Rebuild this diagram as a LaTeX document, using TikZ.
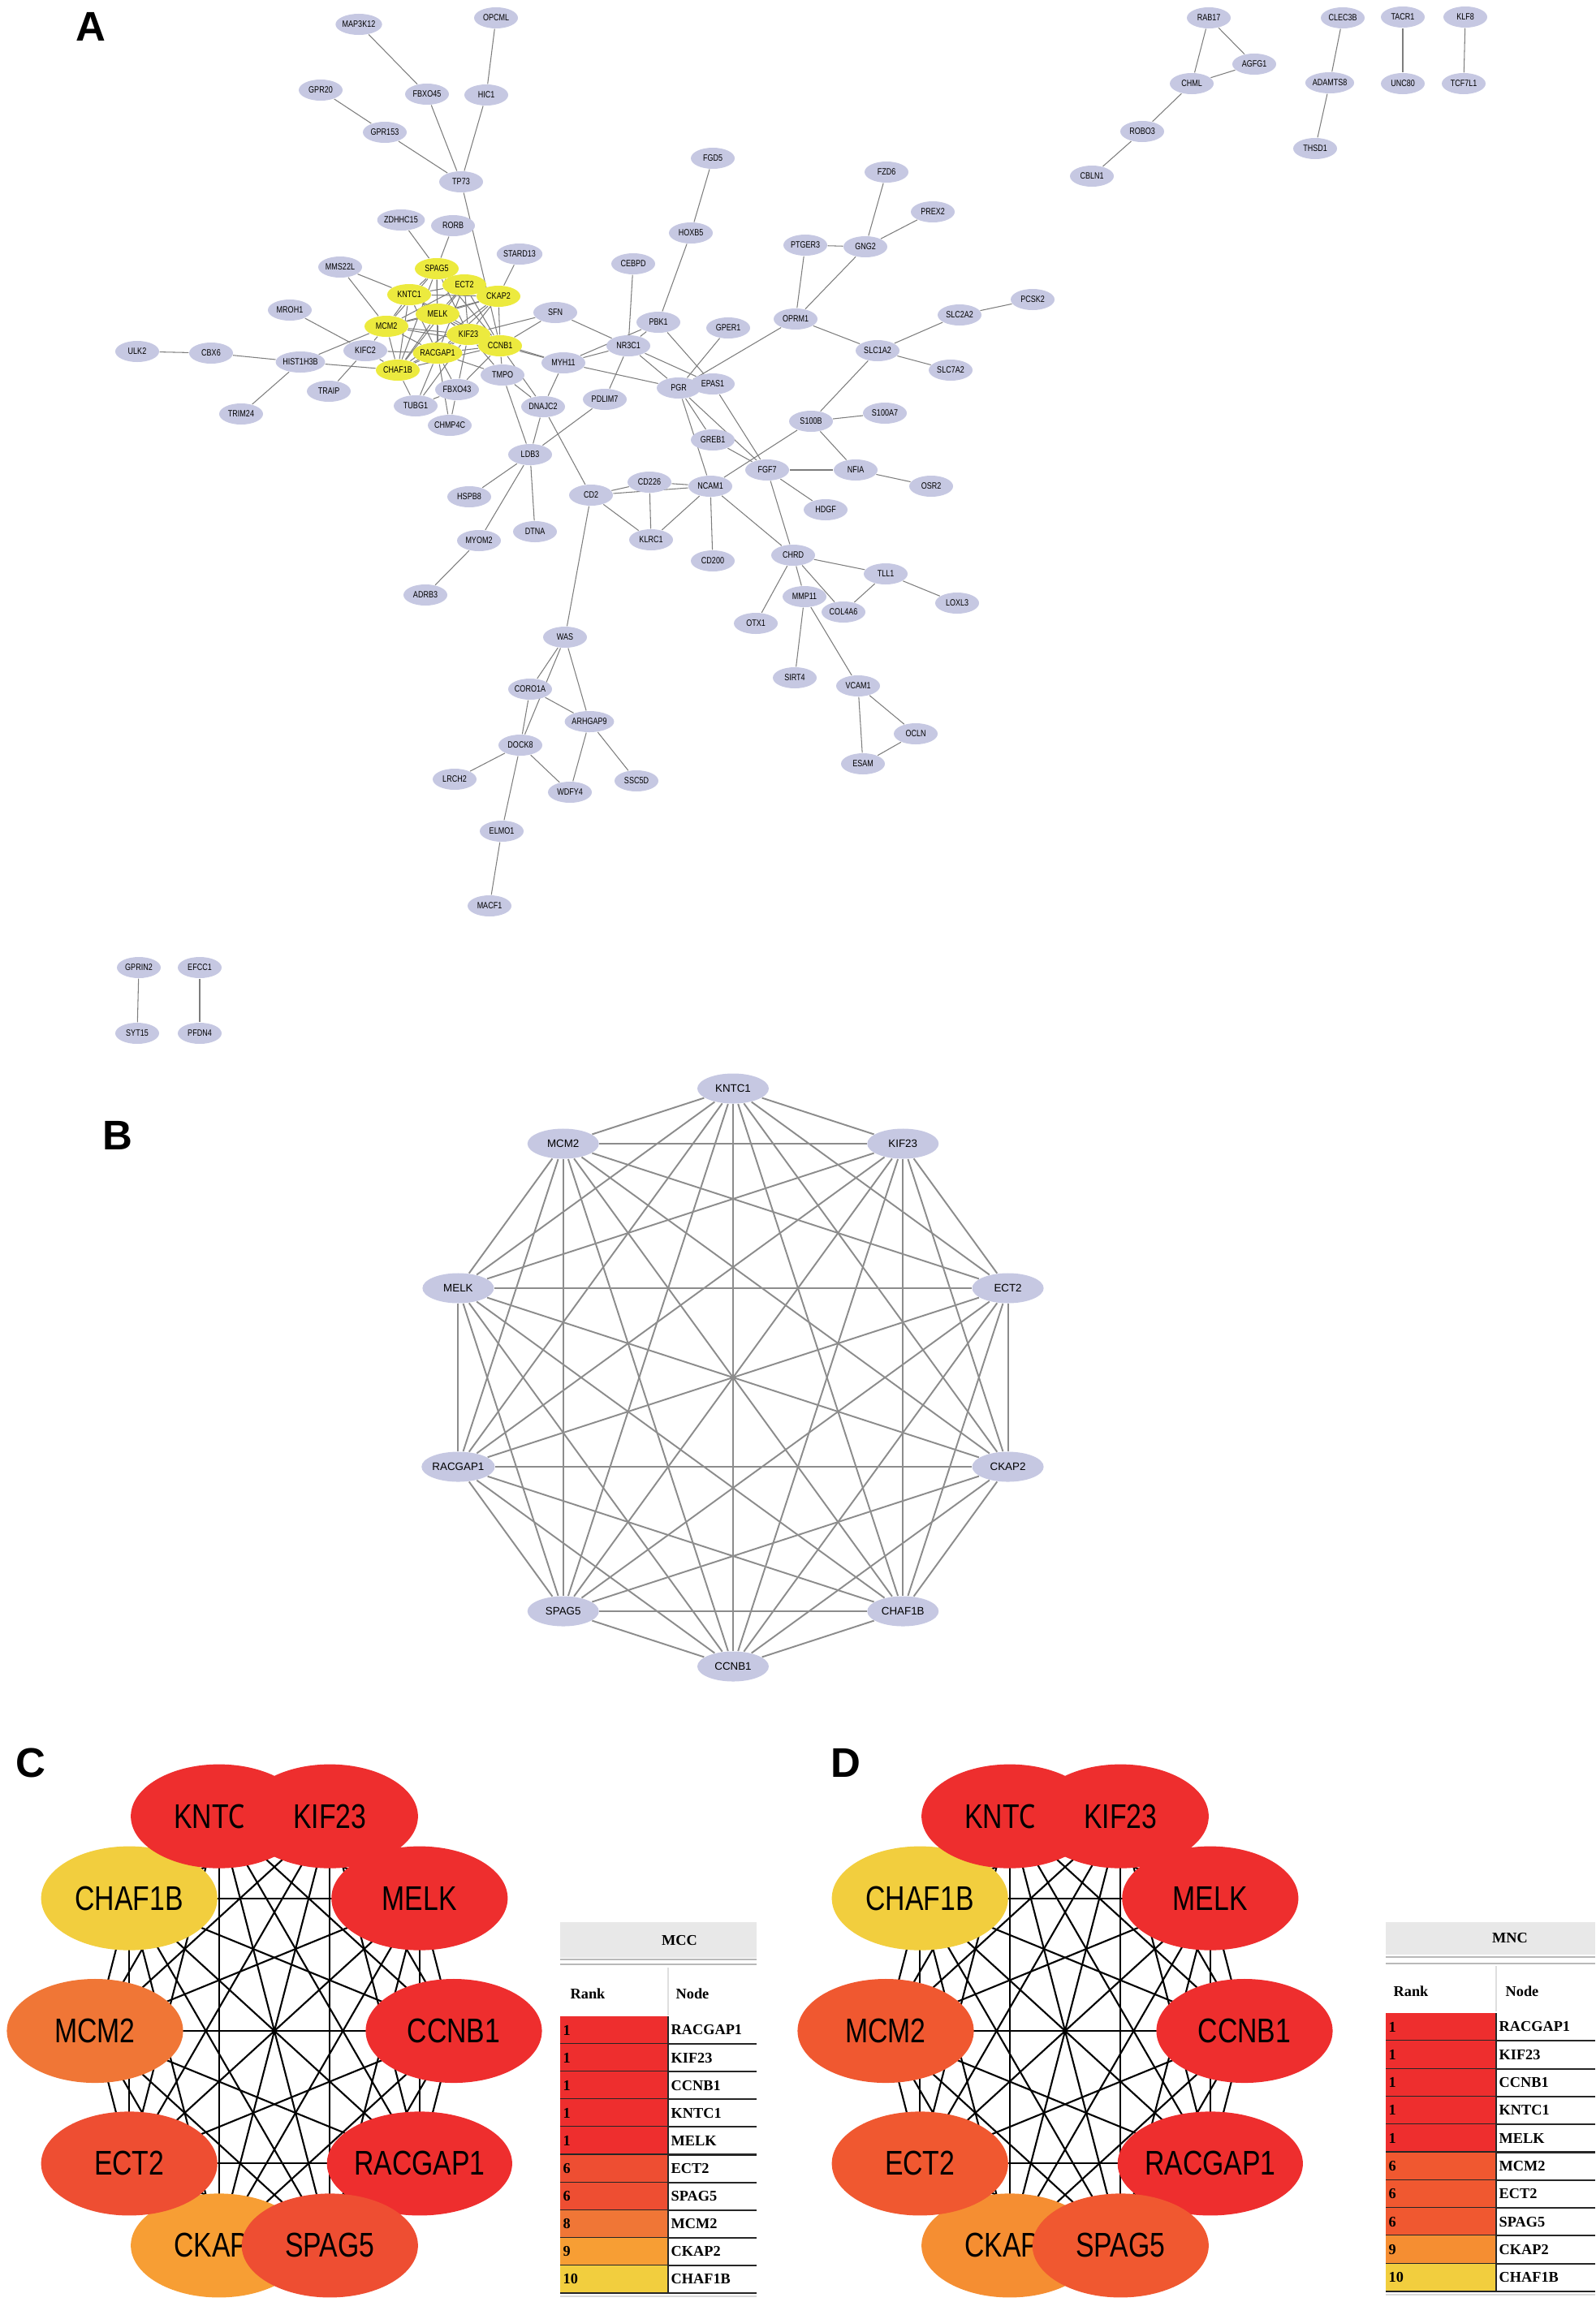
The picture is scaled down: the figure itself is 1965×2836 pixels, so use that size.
\documentclass[tikz,border=0pt]{standalone}
\usepackage{fontspec}
\setmainfont{Liberation Sans}
\newfontfamily\nsans[FakeStretch=0.8]{Liberation Sans}
\newfontfamily\tabfont{Liberation Serif}
\usetikzlibrary{shapes.geometric,backgrounds,calc}

\definecolor{genefill}{RGB}{198,200,226}
\definecolor{hubfill}{RGB}{236,234,62}
\definecolor{linkgray}{RGB}{125,125,125}
\definecolor{cliquegray}{RGB}{140,140,140}
\definecolor{rkone}{RGB}{238,46,46}
\definecolor{rksixC}{RGB}{238,78,50}
\definecolor{rkeightC}{RGB}{240,118,54}
\definecolor{rknineC}{RGB}{247,158,52}
\definecolor{rkten}{RGB}{242,206,62}
\definecolor{rksixD}{RGB}{240,88,48}
\definecolor{rknineD}{RGB}{245,142,50}
\definecolor{headgray}{RGB}{232,232,232}

\newcommand\hublist{KNTC1,KIF23,ECT2,CKAP2,CHAF1B,CCNB1,SPAG5,RACGAP1,MELK,MCM2}

\tikzset{
  gene/.style={ellipse, fill=genefill, inner sep=0pt, minimum width=0.54cm, minimum height=0.26cm, font=\nsans\fontsize{3.2}{3.2}\selectfont},
  hub/.style={gene, fill=hubfill},
  link/.style={draw=linkgray, line width=0.3pt},
  bgene/.style={ellipse, fill=genefill, inner sep=0pt, minimum width=0.88cm, minimum height=0.37cm, font=\fontsize{3.8}{3.8}\selectfont},
  blink/.style={draw=cliquegray, line width=0.55pt},
  cgene/.style={ellipse, inner sep=0pt, minimum width=2.17cm, minimum height=1.28cm, font=\nsans\fontsize{12}{12}\selectfont},
  clink/.style={draw=black, line width=0.6pt},
  panel/.style={font=\bfseries\fontsize{14.5}{14.5}\selectfont},
  tabtxt/.style={inner sep=0pt, font=\tabfont\bfseries\fontsize{5.2}{5.2}\selectfont},
  rowline/.style={draw=black!85, line width=0.6pt}
}

\begin{document}
\begin{tikzpicture}[x=0.01cm, y=-0.01cm]
\useasboundingbox (0,0) rectangle (1965,2836);

% A: whole network
\node[panel] (labA) at (112,33) {A};
\foreach \g/\x/\y in {MAP3K12/442/30, OPCML/611/22, GPR20/395/111, FBXO45/526/116, HIC1/599/117,
  GPR153/474/163, TP73/568/224, ZDHHC15/494/271, RORB/558/278, STARD13/640/313, MMS22L/419/329,
  MROH1/357/382, KIFC2/450/432, HIST1H3B/370/446, CBX6/260/435, ULK2/169/433, TMPO/619/462,
  TRAIP/405/482, FBXO43/563/480, TUBG1/512/500, CHMP4C/554/524, TRIM24/297/510, SFN/684/385,
  FGD5/878/195, FZD6/1092/212, PREX2/1149/261, HOXB5/851/287, PTGER3/992/302, GNG2/1066/304,
  CEBPD/780/325, PBK1/811/397, GPER1/897/404, OPRM1/980/393, PCSK2/1272/369, SLC2A2/1182/388,
  NR3C1/774/426, MYH11/694/447, SLC1A2/1081/432, SLC7A2/1171/456, PGR/836/478, EPAS1/878/473,
  DNAJC2/669/501, PDLIM7/745/492, S100A7/1090/509, S100B/999/519, GREB1/878/542, LDB3/653/560,
  FGF7/945/579, NFIA/1054/579, OSR2/1147/599, CD226/800/594, NCAM1/875/599, CD2/728/610,
  HSPB8/578/612, HDGF/1017/628, DTNA/659/655, MYOM2/590/666, KLRC1/802/665, CD200/878/691,
  CHRD/977/684, TLL1/1091/707, ADRB3/524/733, MMP11/991/735, LOXL3/1179/743, COL4A6/1039/754,
  OTX1/931/768, WAS/696/785, SIRT4/979/835, VCAM1/1057/845, CORO1A/653/849, ARHGAP9/726/889,
  DOCK8/641/918, OCLN/1128/904, ESAM/1063/941, LRCH2/560/960, WDFY4/702/976, SSC5D/784/962,
  ELMO1/618/1024, MACF1/603/1116,
  RAB17/1489/22, AGFG1/1545/79, CHML/1468/103, ROBO3/1407/162, CBLN1/1345/217,
  CLEC3B/1654/22, ADAMTS8/1638/102, THSD1/1620/183, TACR1/1728/21, UNC80/1728/103,
  KLF8/1805/21, TCF7L1/1803/103, GPRIN2/171/1192, EFCC1/246/1192, SYT15/169/1273, PFDN4/246/1273}
  \node[gene] (a\g) at (\x,\y) {\g};
\foreach \g/\x/\y in {SPAG5/538/331, ECT2/572/351, CKAP2/614/365, KNTC1/504/363, MELK/539/387,
  MCM2/476/402, KIF23/577/412, CCNB1/616/426, RACGAP1/539/435, CHAF1B/490/456}
  \node[hub] (a\g) at (\x,\y) {\g};

\begin{scope}[on background layer]
\foreach \u/\v in {MAP3K12/FBXO45, OPCML/HIC1, GPR20/GPR153, FBXO45/TP73, HIC1/TP73, GPR153/TP73,
  TP73/CCNB1, ZDHHC15/SPAG5, RORB/SPAG5, STARD13/CKAP2, MMS22L/KNTC1, MMS22L/MCM2, MROH1/KIFC2,
  ULK2/CBX6, CBX6/HIST1H3B, HIST1H3B/MCM2, HIST1H3B/CHAF1B, HIST1H3B/TRIM24, KIFC2/TRAIP,
  KIFC2/MCM2, KIFC2/CHAF1B, KIFC2/RACGAP1, CHAF1B/TUBG1, TUBG1/FBXO43, TUBG1/RACGAP1, TUBG1/KIF23,
  FBXO43/CHMP4C, RACGAP1/CHMP4C, FBXO43/CCNB1, FBXO43/KIF23, FBXO43/RACGAP1, TMPO/CCNB1,
  TMPO/KIF23, TMPO/RACGAP1, TMPO/LDB3, CCNB1/DNAJC2, TMPO/DNAJC2, SFN/KIF23, SFN/CCNB1, SFN/NR3C1,
  CCNB1/MYH11, KIF23/MYH11, MYH11/NR3C1, MYH11/PGR, MYH11/DNAJC2, CEBPD/NR3C1, FGD5/HOXB5,
  HOXB5/PBK1, PBK1/NR3C1, PBK1/MYH11, PBK1/EPAS1, NR3C1/PGR, NR3C1/EPAS1, NR3C1/PDLIM7, GPER1/PGR,
  OPRM1/PGR, OPRM1/PTGER3, OPRM1/GNG2, PTGER3/GNG2, FZD6/GNG2, PREX2/GNG2, OPRM1/SLC1A2,
  SLC1A2/SLC2A2, SLC2A2/PCSK2, SLC1A2/SLC7A2, SLC1A2/S100B, S100B/S100A7, S100B/NFIA, S100B/NCAM1,
  PGR/GREB1, PGR/NCAM1, PGR/FGF7, EPAS1/FGF7, GREB1/FGF7, DNAJC2/LDB3, PDLIM7/LDB3, DNAJC2/CD2,
  LDB3/HSPB8, LDB3/DTNA, LDB3/MYOM2, MYOM2/ADRB3, CD2/CD226, CD2/NCAM1, CD226/NCAM1, CD2/KLRC1,
  CD226/KLRC1, NCAM1/KLRC1, NCAM1/CD200, NCAM1/CHRD, FGF7/NFIA, FGF7/HDGF, FGF7/CHRD, NFIA/OSR2,
  CD2/WAS, CHRD/TLL1, CHRD/OTX1, CHRD/MMP11, CHRD/COL4A6, TLL1/COL4A6, TLL1/LOXL3, MMP11/SIRT4,
  MMP11/VCAM1, VCAM1/ESAM, VCAM1/OCLN, OCLN/ESAM, WAS/CORO1A, WAS/DOCK8, WAS/ARHGAP9,
  CORO1A/ARHGAP9, CORO1A/DOCK8, DOCK8/LRCH2, DOCK8/WDFY4, DOCK8/ELMO1, ARHGAP9/WDFY4,
  ARHGAP9/SSC5D, ELMO1/MACF1, RAB17/CHML, RAB17/AGFG1, AGFG1/CHML, CHML/ROBO3, ROBO3/CBLN1,
  CLEC3B/ADAMTS8, ADAMTS8/THSD1, TACR1/UNC80, KLF8/TCF7L1, GPRIN2/SYT15, EFCC1/PFDN4}
  \draw[link] (a\u) -- (a\v);
\foreach \u [count=\i] in \hublist {\foreach \v [count=\j] in \hublist {\ifnum\j>\i \draw[link] (a\u) -- (a\v);\fi}}
\end{scope}

% B: hub genes
\node[panel] (labB) at (145,1399) {B};
\foreach \g [count=\k] in \hublist
  \node[bgene] (b\g) at ({903+356*cos(90-36*(\k-1))},{1697-356*sin(90-36*(\k-1))}) {\g};
\foreach \u [count=\i] in \hublist {\foreach \v [count=\j] in \hublist {\ifnum\j>\i \draw[blink] (b\u) -- (b\v);\fi}}

% C: MCC
\node[panel] (labC) at (38,2172) {C};
\foreach \g/\a/\c in {CHAF1B/144/rkten, MCM2/180/rkeightC, CKAP2/252/rknineC, ECT2/216/rksixC,
  KNTC1/108/rkone, KIF23/72/rkone, MELK/36/rkone, CCNB1/0/rkone, RACGAP1/324/rkone, SPAG5/288/rksixC}
  \node[cgene, fill=\c] (c\g) at ({338+221*cos(\a)},{2502-278*sin(\a)}) {\g};
\begin{scope}[on background layer]
\foreach \u [count=\i] in \hublist {\foreach \v [count=\j] in \hublist {\ifnum\j>\i \draw[clink] (c\u.center) -- (c\v.center);\fi}}
\end{scope}

\fill[headgray] (690,2368) rectangle (932,2412);
\node[tabtxt] (mccHead) at (837,2391) {MCC};
\draw[gray!55, line width=0.5pt] (690,2414) -- (932,2414) (690,2420) -- (932,2420);
\draw[gray!25, line width=0.3pt] (823,2424) -- (823,2483);
\node[tabtxt, anchor=west] (mccRank) at (702,2456) {Rank};
\node[tabtxt, anchor=west] (mccNode) at (832,2456) {Node};
\foreach \r/\g/\c [count=\k] in {1/RACGAP1/rkone, 1/KIF23/rkone, 1/CCNB1/rkone, 1/KNTC1/rkone,
  1/MELK/rkone, 6/ECT2/rksixC, 6/SPAG5/rksixC, 8/MCM2/rkeightC, 9/CKAP2/rknineC, 10/CHAF1B/rkten} {
  \fill[\c] (690,{2484+34.1*(\k-1)}) rectangle (823,{2484+34.1*\k});
  \node[tabtxt, anchor=west] (mccR\k) at (693,{2501+34.1*(\k-1)}) {\r};
  \node[tabtxt, anchor=west] (mccN\k) at (826,{2501+34.1*(\k-1)}) {\g};
  \draw[rowline] (690,{2484+34.1*\k}) -- (932,{2484+34.1*\k});
}
\draw[rowline] (823,2484) -- (823,2825);
\draw[gray!30, line width=0.4pt] (690,2829) -- (932,2829);

% D: MNC
\node[panel] (labD) at (1042,2172) {D};
\foreach \g/\a/\c in {CHAF1B/144/rkten, MCM2/180/rksixD, CKAP2/252/rknineD, ECT2/216/rksixD,
  KNTC1/108/rkone, KIF23/72/rkone, MELK/36/rkone, CCNB1/0/rkone, RACGAP1/324/rkone, SPAG5/288/rksixD}
  \node[cgene, fill=\c] (d\g) at ({1312+221*cos(\a)},{2502-278*sin(\a)}) {\g};
\begin{scope}[on background layer]
\foreach \u [count=\i] in \hublist {\foreach \v [count=\j] in \hublist {\ifnum\j>\i \draw[clink] (d\u.center) -- (d\v.center);\fi}}
\end{scope}

\fill[headgray] (1707,2368) rectangle (1965,2408);
\node[tabtxt] (mncHead) at (1860,2388) {MNC};
\draw[gray!55, line width=0.5pt] (1707,2411) -- (1965,2411) (1707,2419) -- (1965,2419);
\draw[gray!25, line width=0.3pt] (1843,2422) -- (1843,2478);
\node[tabtxt, anchor=west] (mncRank) at (1716,2453) {Rank};
\node[tabtxt, anchor=west] (mncNode) at (1854,2453) {Node};
\foreach \r/\g/\c [count=\k] in {1/RACGAP1/rkone, 1/KIF23/rkone, 1/CCNB1/rkone, 1/KNTC1/rkone,
  1/MELK/rkone, 6/MCM2/rksixD, 6/ECT2/rksixD, 6/SPAG5/rksixD, 9/CKAP2/rknineD, 10/CHAF1B/rkten} {
  \fill[\c] (1707,{2480+34.3*(\k-1)}) rectangle (1843,{2480+34.3*\k});
  \node[tabtxt, anchor=west] (mncR\k) at (1710,{2497+34.3*(\k-1)}) {\r};
  \node[tabtxt, anchor=west] (mncN\k) at (1846,{2497+34.3*(\k-1)}) {\g};
  \draw[rowline] (1707,{2480+34.3*\k}) -- (1965,{2480+34.3*\k});
}
\draw[rowline] (1843,2480) -- (1843,2823);
\draw[gray!30, line width=0.4pt] (1707,2827) -- (1965,2827);
\end{tikzpicture}
\end{document}
